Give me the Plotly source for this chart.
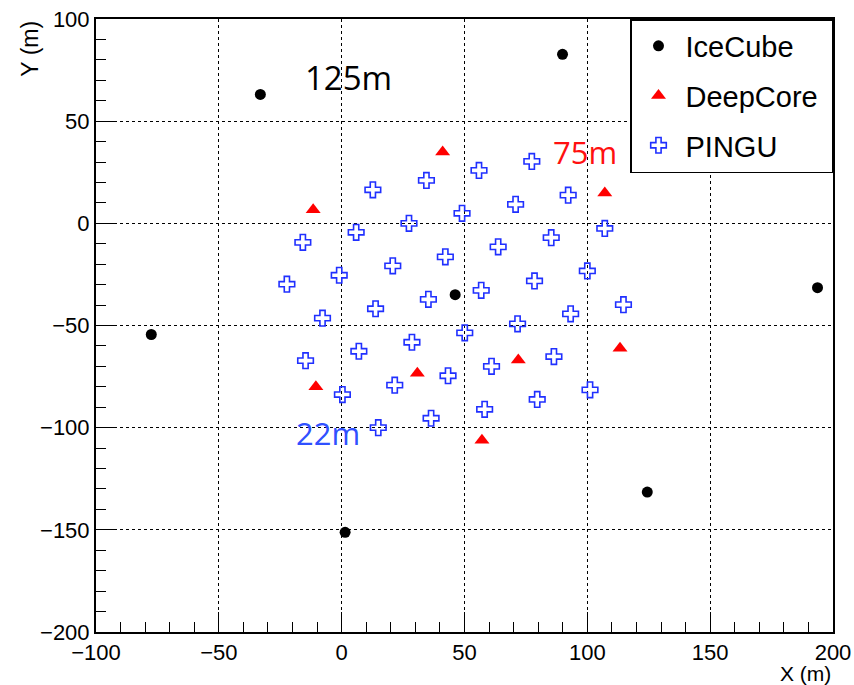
import plotly.graph_objects as go

# IceCube strings
icecube_x = [-33.1, 89.9, 46.2, -77.5, 193.7, 1.4, 124.4]
icecube_y = [63.1, 82.7, -34.9, -54.4, -31.5, -151.2, -131.5]

# DeepCore strings
deepcore_x = [41.1, 107.1, -11.6, 113.3, 71.9, 30.8, -10.5, 57.1]
deepcore_y = [34.9, 14.8, 6.6, -61.1, -66.9, -73.4, -80.0, -106.2]

# PINGU strings
pingu_x = [77.4, 55.9, 34.5, 12.7, 92.2, 70.8, 49.0, 27.4, 5.9, -15.8,
           107.1, 85.3, 63.7, 42.2, 20.8, -1.0, -22.3, 100.0, 78.5, 56.8,
           35.3, 13.8, -7.8, 114.7, 93.2, 71.6, 50.1, 28.6, 7.0, -14.7,
           86.4, 61.0, 43.3, 21.6, 0.3, 101.1, 79.6, 58.2, 36.4, 14.9]
pingu_y = [30.3, 25.9, 21.0, 16.4, 13.8, 9.3, 4.9, 0.0, -4.4, -9.3,
           -2.5, -7.0, -11.5, -16.4, -20.8, -25.4, -29.8, -23.3, -28.2, -32.8,
           -37.2, -41.8, -46.4, -39.8, -44.3, -49.2, -53.6, -58.2, -62.6, -67.2,
           -65.2, -70.0, -74.6, -79.2, -83.8, -81.5, -86.2, -91.0, -95.4, -100.0]

# spacing labels
label_text = ["125m", "75m", "22m"]
label_x = [2.6, 99.0, -5.6]
label_y = [71.5, 35.0, -102.8]
label_color = ["black", "#ff1010", "#3050ff"]
label_size = [33, 31, 31]

FONT = "Liberation Sans, Arial, sans-serif"
PAD = "\u00a0"

fig = go.Figure()
fig.add_trace(go.Scatter(x=icecube_x, y=icecube_y, mode="markers", name="IceCube",
                         legendgroup="a",
                         marker=dict(symbol="circle", size=11, color="black")))
fig.add_trace(go.Scatter(x=deepcore_x, y=deepcore_y, mode="markers",
                         name="DeepCore" + PAD, legendgroup="b",
                         marker=dict(symbol="triangle-up", size=13, color="#ff0000")))
fig.add_trace(go.Scatter(x=pingu_x, y=pingu_y, mode="markers", name="PINGU",
                         legendgroup="c",
                         marker=dict(symbol="cross-open", size=13, color="#2030ff",
                                     line=dict(width=1.6, color="#2030ff"))))

for t, x, y, c, s in zip(label_text, label_x, label_y, label_color, label_size):
    fig.add_annotation(x=x, y=y, text=t, showarrow=False,
                       font=dict(family="Open Sans, sans-serif", size=s, color=c))

axis_common = dict(
    showline=True, linecolor="black", linewidth=2, mirror=True,
    ticks="inside", ticklen=20, tickwidth=1.2, tickcolor="black",
    showgrid=True, gridcolor="black", gridwidth=1, griddash="dot",
    zeroline=False, automargin=False,
    tickfont=dict(family=FONT, size=22, color="black"),
    minor=dict(dtick=10, ticks="inside", ticklen=10, tickwidth=1.2,
               tickcolor="black", showgrid=False),
)

fig.update_xaxes(range=[-100, 200], dtick=50, tick0=0, **axis_common)
fig.update_yaxes(range=[-200, 100], dtick=50, tick0=0, **axis_common)

fig.add_annotation(xref="paper", yref="paper", x=1, y=-0.067, xanchor="right",
                   yanchor="middle", text="X (m)", showarrow=False,
                   font=dict(family=FONT, size=21, color="black"))
fig.add_annotation(xref="paper", yref="paper", x=-0.09, y=1.0, xanchor="center",
                   yanchor="top", text="Y (m)", showarrow=False, textangle=-90,
                   font=dict(family=FONT, size=23, color="black"))

fig.update_layout(
    width=854, height=685,
    margin=dict(l=96, r=21, t=19, b=53),
    plot_bgcolor="white", paper_bgcolor="white",
    legend=dict(x=1, y=1, xanchor="right", yanchor="top",
                bgcolor="white", bordercolor="black", borderwidth=1.5,
                font=dict(family=FONT, size=29, color="black"),
                tracegroupgap=9, traceorder="grouped", itemwidth=44),
)

fig.write_html("out.html", config={"displayModeBar": False},
               post_script="document.body.style.margin='0';"
                           "document.body.style.overflow='hidden';")
